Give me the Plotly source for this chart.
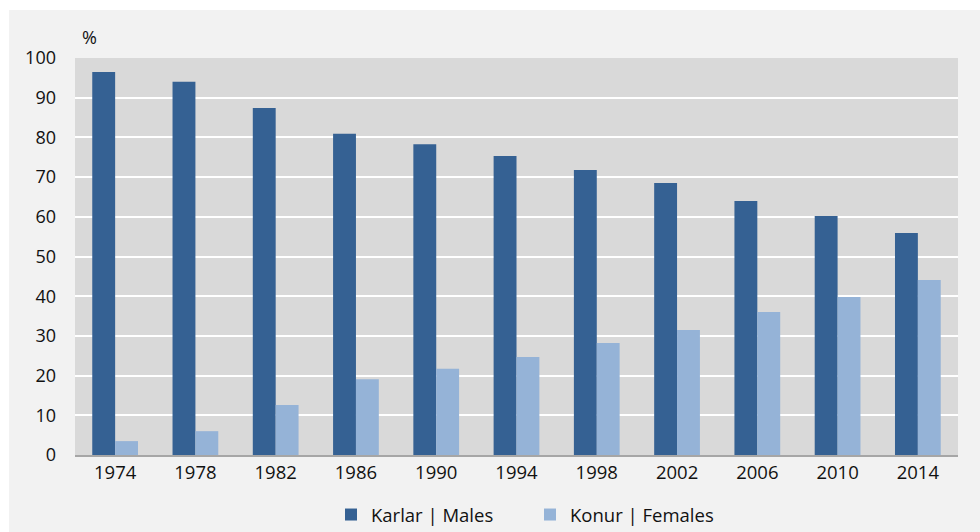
import plotly.graph_objects as go

years = ["1974", "1978", "1982", "1986", "1990", "1994", "1998", "2002", "2006", "2010", "2014"]
males = [96.5, 94.0, 87.4, 80.9, 78.3, 75.3, 71.8, 68.5, 64.0, 60.2, 55.9]
females = [3.5, 6.0, 12.6, 19.1, 21.7, 24.7, 28.2, 31.5, 36.0, 39.8, 44.1]
series_names = ["Karlar | Males", "Konur | Females"]
y_ticks = [0, 10, 20, 30, 40, 50, 60, 70, 80, 90, 100]

W, H = 980, 532
L, R, T, B = 75, 22, 58, 77
pw, ph = W - L - R, H - T - B

font = "Open Sans, Noto Sans, sans-serif"

fig = go.Figure()
fig.add_trace(go.Bar(x=years, y=males, name=series_names[0], marker=dict(color="#356193", line=dict(width=0))))
fig.add_trace(go.Bar(x=years, y=females, name=series_names[1], marker=dict(color="#95b3d7", line=dict(width=0))))

def px_x(x):
    return (x - L) / pw

def px_y(y):
    return (H - B - y) / ph

shapes = [
    dict(type="rect", xref="paper", yref="paper", x0=px_x(0), x1=px_x(W), y0=px_y(0), y1=px_y(10),
         fillcolor="white", line=dict(width=0), layer="below"),
    dict(type="rect", xref="paper", yref="paper", x0=px_x(0), x1=px_x(9), y0=px_y(0), y1=px_y(H),
         fillcolor="white", line=dict(width=0), layer="below"),
]

fig.update_layout(
    width=W, height=H,
    margin=dict(l=L, r=R, t=T, b=B),
    paper_bgcolor="#f2f2f2",
    plot_bgcolor="#d9d9d9",
    barmode="group",
    bargap=0.43,
    bargroupgap=0,
    font=dict(family=font, size=18, color="#111111"),
    shapes=shapes,
    showlegend=True,
    legend=dict(orientation="h", xref="container", yref="container",
                x=331 / W, xanchor="left", y=1 - 515 / H, yanchor="middle",
                font=dict(size=18.5), entrywidth=154, entrywidthmode="pixels",
                tracegroupgap=0, bgcolor="rgba(0,0,0,0)", borderwidth=0),
    annotations=[dict(text="%", xref="paper", yref="paper", x=px_x(89), y=px_y(37),
                      xanchor="center", yanchor="middle", showarrow=False, font=dict(size=18))],
    xaxis=dict(showgrid=False, showline=True, linecolor="#a6a6a6", linewidth=2, ticks="",
               tickfont=dict(size=18.5), fixedrange=True),
    yaxis=dict(range=[0, 100], tickvals=y_ticks, showgrid=True, gridcolor="white", gridwidth=2,
               zeroline=False, showline=False, ticks="", tickfont=dict(size=18),
               ticklabelstandoff=18, fixedrange=True),
)

fig.write_html("out.html", config={"displayModeBar": False},
               post_script="document.body.style.margin='0';document.body.style.overflow='hidden';")
